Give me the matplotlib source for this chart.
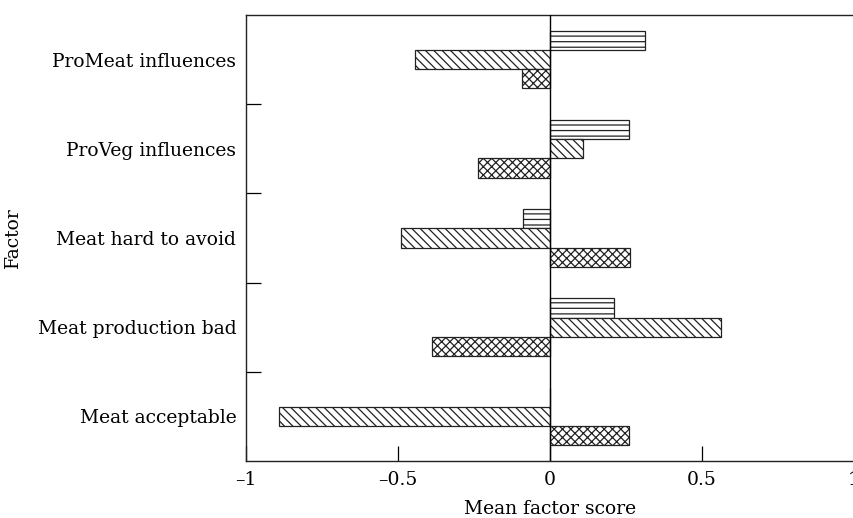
import numpy as np
import matplotlib
matplotlib.use("Agg")
import matplotlib.pyplot as plt
from matplotlib.ticker import FixedLocator

# data, top group first
factors = ["ProMeat influences", "ProVeg influences", "Meat hard to avoid",
           "Meat production bad", "Meat acceptable"]
series_a = [0.311, 0.259, -0.088, 0.212, 0.0]     # horizontal lines
series_b = [-0.444, 0.107, -0.489, 0.564, -0.89]  # diagonal
series_c = [-0.091, -0.238, 0.263, -0.387, 0.260] # crosshatch
xticks = [-1, -0.5, 0, 0.5, 1]
xticklabels = ["\u20131", "\u20130.5", "0", "0.5", "1"]

plt.rcParams['font.family'] = ['DejaVu Serif']
plt.rcParams['hatch.linewidth'] = 0.9

fig = plt.figure(figsize=(8.54, 5.18), dpi=100)
ax = fig.add_axes([246 / 854, 57 / 518, 608 / 854, 446 / 518])

n = len(factors)
ypos = np.arange(n)[::-1]   # top group at the highest y
h = 0.215
style = dict(height=h, color='white', edgecolor='#222222', linewidth=0.9)
ax.barh(ypos + h, series_a, hatch='---', **style)
ax.barh(ypos, series_b, hatch='\\\\\\\\', **style)
ax.barh(ypos - h, series_c, hatch='xxxx', **style)

ax.axvline(0, color='black', linewidth=1.0, zorder=3)

ax.set_xlim(-1, 1)
ax.set_ylim(-0.5, n - 0.5)

ax.set_xticks(xticks)
ax.set_xticklabels(xticklabels, fontsize=13.5)
ax.tick_params(axis='x', direction='in', length=10.5, width=0.9, pad=7)

# tick marks between groups, labels at group centres
ax.yaxis.set_major_locator(FixedLocator(np.arange(n - 1) + 0.5))
ax.yaxis.set_major_formatter(plt.NullFormatter())
ax.set_yticks(ypos, minor=True)
ax.set_yticklabels(factors, minor=True, fontsize=13.5)
ax.tick_params(axis='y', which='major', direction='in', length=10.5, width=0.9)
ax.tick_params(axis='y', which='minor', length=0, pad=7)

for s in ax.spines.values():
    s.set_linewidth(1.0)
    s.set_color('#222222')

ax.set_xlabel("Mean factor score", fontsize=13.5, labelpad=8)
ax.set_ylabel("Factor", fontsize=13.5)
ax.yaxis.set_label_coords(-0.368, 0.5)

fig.savefig("out.png", dpi=100)
